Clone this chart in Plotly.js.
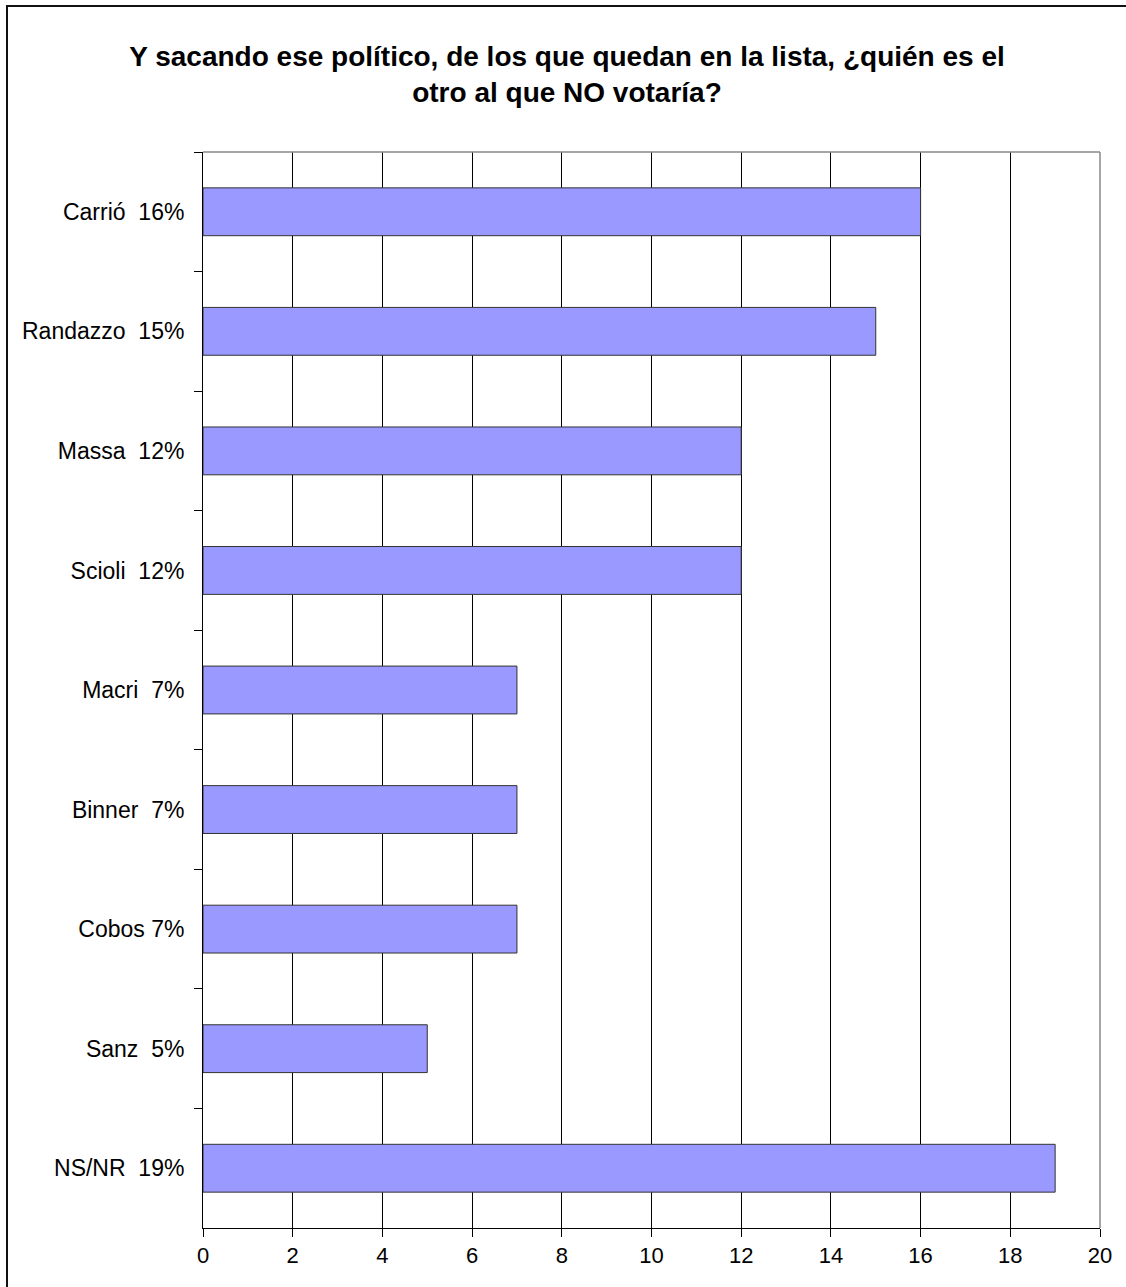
<!DOCTYPE html>
<html>
<head>
<meta charset="utf-8">
<script src="https://cdn.plot.ly/plotly-3.0.1.min.js"></script>
<style>
  html, body { margin: 0; padding: 0; background: #fff; }
  #wrap { position: relative; width: 1126px; height: 1287px; overflow: hidden; }
  #chart { width: 1126px; height: 1287px; }
  #frame { position: absolute; left: 6px; top: 5px; width: 1200px; height: 1400px;
           border-left: 2px solid #111; border-top: 2px solid #111; pointer-events: none; }
</style>
</head>
<body>
<div id="wrap">
  <div id="chart"></div>
  <div id="frame"></div>
</div>
<script>
const categories = ["Carrió\u00a0 16%", "Randazzo\u00a0 15%", "Massa\u00a0 12%", "Scioli\u00a0 12%",
                    "Macri\u00a0 7%", "Binner\u00a0 7%", "Cobos\u00a07%", "Sanz\u00a0 5%", "NS/NR\u00a0 19%"];
const values = [16, 15, 12, 12, 7, 7, 7, 5, 19];
const xTicks = [0, 2, 4, 6, 8, 10, 12, 14, 16, 18, 20];
const titleText = "Y sacando ese político, de los que quedan en la lista, ¿quién es el<br>otro al que NO votaría?";

const font = "Arial, 'Liberation Sans', sans-serif";

const data = [{
  type: "bar",
  orientation: "h",
  y: categories,
  x: values,
  marker: { color: "#9999FF", line: { color: "#333333", width: 1 } },
  width: 0.4,
  hoverinfo: "x+y"
}];

const layout = {
  width: 1126,
  height: 1287,
  paper_bgcolor: "#ffffff",
  plot_bgcolor: "#ffffff",
  margin: { l: 203, r: 26, t: 152, b: 59 },
  showlegend: false,
  title: {
    text: titleText,
    font: { family: font, size: 28, color: "#000", weight: "bold" },
    x: 567 / 1126, xref: "container",
    y: 1 - 66 / 1287, yref: "container", yanchor: "middle"
  },
  xaxis: {
    range: [0, 20],
    tickvals: xTicks,
    ticktext: xTicks.map(String),
    showgrid: true, gridcolor: "#000", gridwidth: 1,
    showline: true, linecolor: "#000", linewidth: 1,
    ticks: "outside", ticklen: 8, tickcolor: "#000", tickwidth: 1,
    tickfont: { family: font, size: 22, color: "#000" },
    zeroline: false, fixedrange: true
  },
  yaxis: {
    type: "category",
    autorange: "reversed",
    showgrid: false,
    showline: true, linecolor: "#000", linewidth: 1,
    ticks: "outside", ticklen: 8, tickcolor: "#000", tickwidth: 1,
    tickson: "boundaries",
    ticklabelstandoff: 13,
    tickfont: { family: font, size: 23, color: "#000" },
    zeroline: false, fixedrange: true
  },
  shapes: [
    { type: "line", xref: "paper", yref: "paper", x0: 0, x1: 1, y0: 1, y1: 1,
      line: { color: "#888", width: 1.5 }, layer: "above" },
    { type: "line", xref: "paper", yref: "paper", x0: 1, x1: 1, y0: 0, y1: 1,
      line: { color: "#888", width: 1.5 }, layer: "above" }
  ]
};

Plotly.newPlot("chart", data, layout, { displayModeBar: false, staticPlot: true });
</script>
</body>
</html>
